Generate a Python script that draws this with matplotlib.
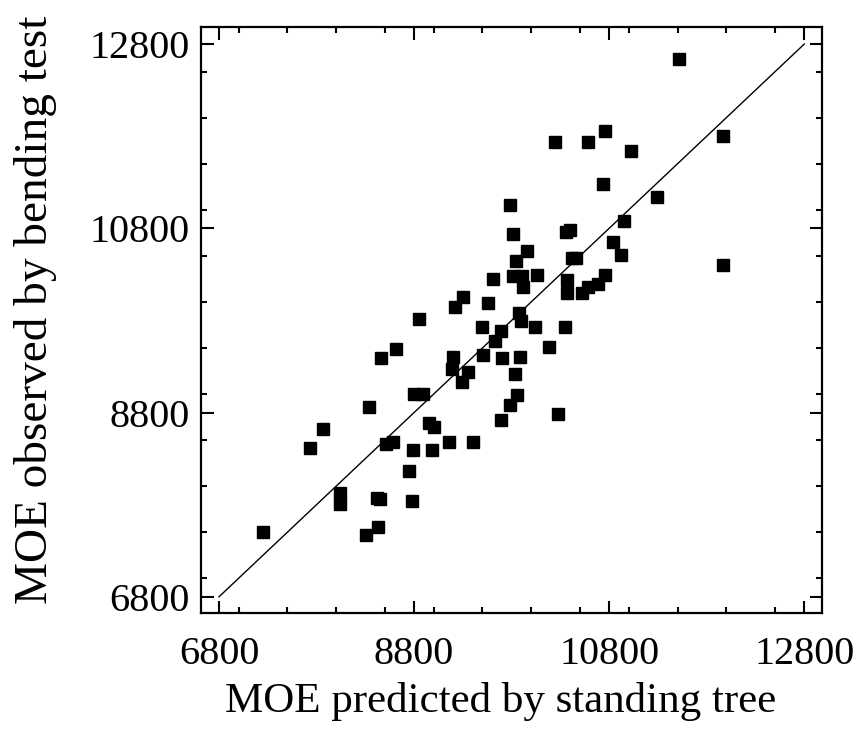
import matplotlib
matplotlib.use("Agg")
import matplotlib.pyplot as plt
from matplotlib.ticker import MultipleLocator

# MOE predicted (x) and observed (y)
moe_predicted = [11515, 11970, 10241, 10580, 10754, 11023, 10736, 11293, 9783, 10952,
                 9814, 10357, 10398, 10836, 9952, 10924, 9848, 10419, 10460, 9612,
                 9809, 9906, 10057, 9919, 10364, 10364, 10516, 10586, 10680, 10752,
                 11970, 9304, 9222, 9561, 8848, 9875, 9891, 9496, 9686, 10039,
                 10342, 9629, 10186, 8612, 8456, 9202, 9511, 9701, 9886, 9834,
                 9188, 9356, 9291, 9850, 9783, 9686, 10275, 8340, 8799, 8894,
                 8953, 9004, 7864, 7728, 8512, 8582, 8784, 8987, 9155, 9407,
                 8748, 8037, 8037, 8415, 8450, 8782, 8427, 8307, 7254]
moe_observed = [12634, 11805, 11736, 11736, 11859, 11639, 11275, 11136, 11053, 10884,
                10735, 10756, 10781, 10649, 10551, 10513, 10448, 10477, 10472, 10246,
                10277, 10277, 10298, 10166, 10233, 10097, 10094, 10166, 10198, 10298,
                10396, 10049, 9945, 9994, 9815, 9875, 9794, 9725, 9688, 9725,
                9725, 9574, 9506, 9490, 9389, 9406, 9424, 9389, 9403, 9220,
                9275, 9237, 9135, 8985, 8887, 8719, 8784, 8855, 9001, 9001,
                8683, 8646, 8618, 8417, 8453, 8480, 8396, 8396, 8483, 8483,
                8160, 7930, 7811, 7876, 7858, 7843, 7555, 7471, 7507]

line_ends = [6800, 12800]
tick_values = [6800, 8800, 10800, 12800]

plt.rcParams['font.family'] = ['Liberation Serif', 'DejaVu Serif']

fig = plt.figure(figsize=(8.61, 7.45), dpi=100)
ax = fig.add_axes([0.2334, 0.1768, 0.7213, 0.7874])

ax.plot(line_ends, line_ends, color='black', linewidth=1.0)
ax.plot(moe_predicted, moe_observed, linestyle='none', marker='s',
        markersize=8.6, color='black')

ax.set_xlim(6615, 12981)
ax.set_ylim(6621, 12988)
ax.set_xticks(tick_values)
ax.set_yticks(tick_values)
ax.xaxis.set_minor_locator(MultipleLocator(500))
ax.yaxis.set_minor_locator(MultipleLocator(500))

ax.tick_params(which='both', direction='in', top=True, right=True, width=1.5,
               labelsize=29)
ax.tick_params(which='major', length=9)
ax.tick_params(which='minor', length=4.5)
ax.tick_params(axis='x', which='major', pad=16)
ax.tick_params(axis='y', which='major', pad=8)
for s in ax.spines.values():
    s.set_linewidth(1.6)

ax.set_xlabel('MOE predicted by standing tree', fontsize=31, va='center')
ax.xaxis.set_label_coords(0.483, -0.15)
ax.set_ylabel('MOE observed by bending test', fontsize=34, va='center')
ax.yaxis.set_label_coords(-0.267, 0.517)

fig.savefig('out.png', dpi=100)
